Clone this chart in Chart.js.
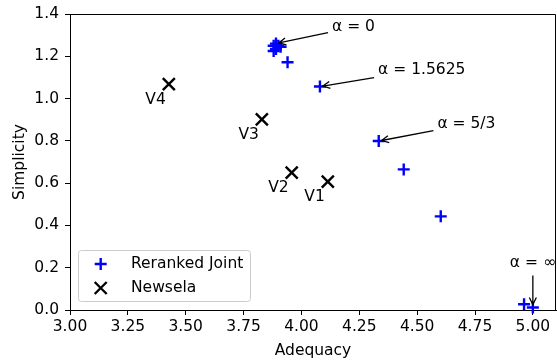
<!DOCTYPE html>
<html><head><meta charset="utf-8">
<script src="https://cdn.jsdelivr.net/npm/chart.js@4"></script>
<style>html,body{margin:0;padding:0;background:#fff}#wrap{width:557px;height:360px}</style>
</head><body><div id="wrap"><canvas id="c" width="557" height="360"></canvas></div>
<script>
const FONT = "'DejaVu Sans', sans-serif";
const FS = 15.5;

// Reranked Joint (blue +)
const rerankedX = [3.88, 3.89, 3.90, 3.91, 3.88, 3.89, 3.94, 4.08, 4.334, 4.442, 4.602, 4.962, 5.00];
const rerankedY = [1.25, 1.26, 1.25, 1.245, 1.225, 1.235, 1.172, 1.057, 0.799, 0.665, 0.443, 0.027, 0.012];

// Newsela (black x)
const newselaX = [3.427, 3.829, 3.958, 4.114];
const newselaY = [1.068, 0.902, 0.650, 0.607];
const newselaLabels = ['V4', 'V3', 'V2', 'V1'];

// Axis ticks
const xTicks = [3.00, 3.25, 3.50, 3.75, 4.00, 4.25, 4.50, 4.75, 5.00];
const yTicks = [0.0, 0.2, 0.4, 0.6, 0.8, 1.0, 1.2, 1.4];

// Annotations
const annotLabels = ['α = 0', 'α = 1.5625', 'α = 5/3', 'α = ∞'];
const annotTargetX = [3.89, 4.08, 4.334, 5.00];
const annotTargetY = [1.26, 1.057, 0.799, 0.012];
const annotTextX = [4.225, 4.52, 4.713, 5.00];
const annotTextY = [1.338, 1.136, 0.878, 0.223];

const seriesLabels = ['Reranked Joint', 'Newsela'];

function drawArrow(ctx, x0, y0, x1, y1) {
  const ang = Math.atan2(y1 - y0, x1 - x0);
  ctx.beginPath();
  ctx.moveTo(x0, y0);
  ctx.lineTo(x1, y1);
  ctx.stroke();
  const hl = 7, hw = 3.5;
  const bx = x1 - hl * Math.cos(ang), by = y1 - hl * Math.sin(ang);
  const px = -Math.sin(ang), py = Math.cos(ang);
  ctx.beginPath();
  ctx.moveTo(bx + px * hw, by + py * hw);
  ctx.lineTo(x1, y1);
  ctx.lineTo(bx - px * hw, by - py * hw);
  ctx.stroke();
}

const overlay = {
  id: 'overlay',
  afterLayout(chart) {
    // scatter point overflow reserves extra right padding; restore full-width plot area
    const x = chart.scales.x;
    const R = chart.width - 1;
    chart.chartArea.right = R;
    chart.chartArea.width = R - chart.chartArea.left;
    x.right = R;
    x.width = R - x.left;
    x.configure();
  },
  afterDraw(chart) {
    const ctx = chart.ctx;
    const xs = chart.scales.x, ys = chart.scales.y;
    const a = chart.chartArea;
    ctx.save();
    // top & right spines
    ctx.strokeStyle = '#000';
    ctx.lineWidth = 1;
    ctx.beginPath();
    ctx.moveTo(a.left, a.top + 0.5);
    ctx.lineTo(a.right - 0.5, a.top + 0.5);
    ctx.lineTo(a.right - 0.5, a.bottom);
    ctx.stroke();

    ctx.font = FS + 'px ' + FONT;
    ctx.fillStyle = '#000';
    // V labels
    ctx.textAlign = 'right';
    ctx.textBaseline = 'middle';
    for (let i = 0; i < newselaX.length; i++) {
      const px = xs.getPixelForValue(newselaX[i]);
      const py = ys.getPixelForValue(newselaY[i]);
      ctx.fillText(newselaLabels[i], px - 3, py + 15.5);
    }
    // annotations
    ctx.textAlign = 'center';
    ctx.lineWidth = 1.3;
    for (let i = 0; i < annotLabels.length; i++) {
      const tx = xs.getPixelForValue(annotTextX[i]);
      const ty = ys.getPixelForValue(annotTextY[i]);
      const gx = xs.getPixelForValue(annotTargetX[i]);
      const gy = ys.getPixelForValue(annotTargetY[i]);
      ctx.fillText(annotLabels[i], tx, ty);
      const w = ctx.measureText(annotLabels[i]).width / 2 + 4;
      const h = FS * 0.55 + 4;
      const dx = gx - tx, dy = gy - ty;
      const L = Math.hypot(dx, dy);
      let t = Math.min(Math.abs(dx) > 0 ? w / Math.abs(dx) : 1e9, Math.abs(dy) > 0 ? h / Math.abs(dy) : 1e9);
      const sx = tx + dx * t, sy = ty + dy * t;
      const ex = gx - dx / L * 3, ey = gy - dy / L * 3;
      drawArrow(ctx, sx, sy, ex, ey);
    }
    // legend
    const lx = 78.5, ly = 250.5, lw = 172, lh = 51;
    ctx.fillStyle = 'rgba(255,255,255,0.8)';
    ctx.strokeStyle = '#cccccc';
    ctx.lineWidth = 1;
    ctx.beginPath();
    ctx.roundRect(lx, ly, lw, lh, 3);
    ctx.fill();
    ctx.stroke();
    const ds = chart.data.datasets;
    const rows = [264, 288];
    for (let i = 0; i < ds.length; i++) {
      ctx.strokeStyle = ds[i].borderColor;
      ctx.fillStyle = ds[i].backgroundColor;
      ctx.lineWidth = ds[i].borderWidth;
      Chart.helpers.drawPoint(ctx, {
        pointStyle: ds[i].pointStyle, radius: ds[i].pointRadius,
        borderWidth: ds[i].borderWidth, rotation: 0
      }, 100.7, rows[i]);
      ctx.fillStyle = '#000';
      ctx.textAlign = 'left';
      ctx.textBaseline = 'middle';
      ctx.fillText(ds[i].label, 131, rows[i]);
    }
    ctx.restore();
  }
};

const ctx = document.getElementById('c').getContext('2d');
new Chart(ctx, {
  type: 'scatter',
  data: {
    datasets: [
      { label: seriesLabels[0], data: rerankedX.map((x, i) => ({ x, y: rerankedY[i] })),
        pointStyle: 'cross', pointRadius: 6, borderColor: '#0000ff', backgroundColor: '#0000ff', borderWidth: 2.4, clip: false },
      { label: seriesLabels[1], data: newselaX.map((x, i) => ({ x, y: newselaY[i] })),
        pointStyle: 'crossRot', pointRadius: 8.5, borderColor: '#000000', backgroundColor: '#000000', borderWidth: 2.4, clip: false }
    ]
  },
  options: {
    responsive: false, animation: false, devicePixelRatio: 1,
    layout: { padding: { top: 14, right: 1, left: 0, bottom: 0 } },
    plugins: { legend: { display: false }, tooltip: { enabled: false } },
    scales: {
      x: {
        type: 'linear', min: 3, max: 5.1,
        afterBuildTicks: s => { s.ticks = xTicks.map(v => ({ value: v })); },
        afterFit: s => { s.height = 50; s.paddingLeft = 0; s.paddingRight = 0; },
        ticks: { callback: v => Number(v).toFixed(2), font: { family: FONT, size: FS }, color: '#000', padding: 3, maxRotation: 0, autoSkip: false },
        grid: { drawOnChartArea: false, tickLength: 5, color: '#000', tickColor: '#000' },
        border: { color: '#000', width: 1 },
        title: { display: true, text: 'Adequacy', font: { family: FONT, size: FS }, color: '#000', padding: { top: 2, bottom: 0 } }
      },
      y: {
        type: 'linear', min: 0, max: 1.4,
        afterBuildTicks: s => { s.ticks = yTicks.map(v => ({ value: v })); },
        afterFit: s => { s.width = 70; s.paddingTop = 0; s.paddingBottom = 0; },
        ticks: { callback: v => Number(v).toFixed(1), font: { family: FONT, size: FS }, color: '#000', padding: 6, autoSkip: false },
        grid: { drawOnChartArea: false, tickLength: 5, color: '#000', tickColor: '#000' },
        border: { color: '#000', width: 1 },
        title: { display: true, text: 'Simplicity', font: { family: FONT, size: FS }, color: '#000', padding: { top: 11, bottom: 2 } }
      }
    }
  },
  plugins: [overlay]
});
</script></body></html>
